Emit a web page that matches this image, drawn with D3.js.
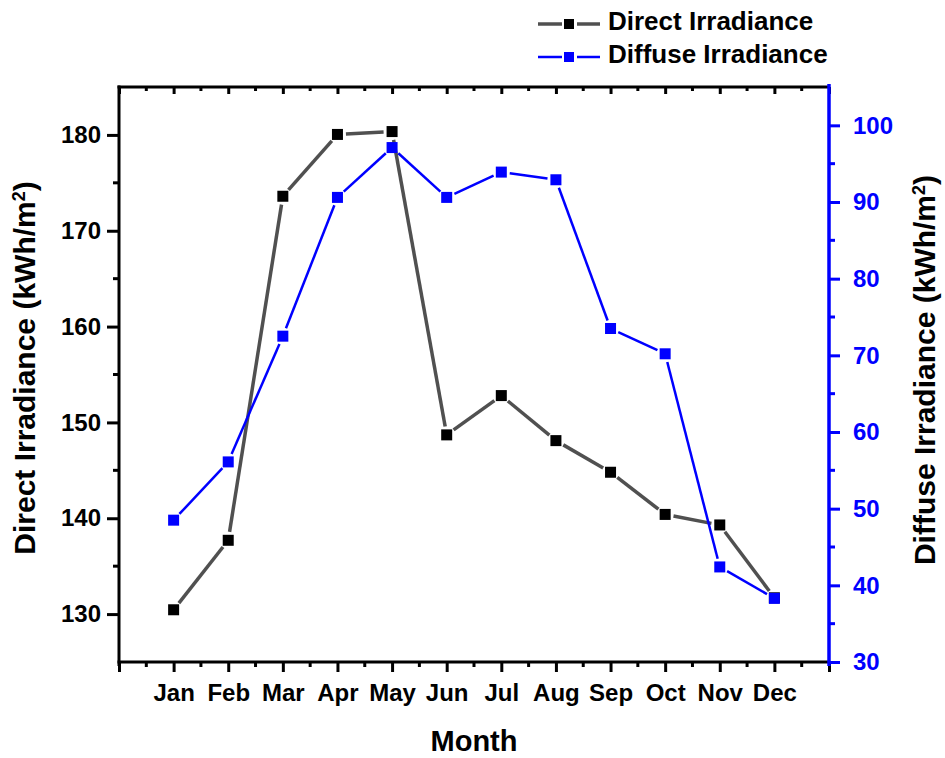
<!DOCTYPE html>
<html>
<head>
<meta charset="utf-8">
<script src="https://cdn.jsdelivr.net/npm/d3@7"></script>
<style>
  body { margin: 0; background: #fff; }
  svg { display: block; font-family: "Liberation Sans", Arial, sans-serif; font-weight: bold; }
</style>
</head>
<body>
<div id="chart"></div>
<script>
// data
const months = ["Jan", "Feb", "Mar", "Apr", "May", "Jun", "Jul", "Aug", "Sep", "Oct", "Nov", "Dec"];
const directVals = [130.45, 137.7, 173.6, 180.05, 180.35, 148.7, 152.8, 148.1, 144.8, 140.4, 139.3, 131.7];
const diffuseVals = [48.5, 56.1, 72.5, 90.6, 97.1, 90.6, 93.9, 92.9, 73.5, 70.2, 42.4, 38.3];
const leftTicks = [130, 140, 150, 160, 170, 180];
const rightTicks = [30, 40, 50, 60, 70, 80, 90, 100];

const W = 945, H = 758;
const plotL = 119, plotR = 829, plotT = 87, plotB = 662;
const grey = "#505050", blue = "#0000ff";
const MS = 11;   // marker size
const GAP = 8.5; // line stops short of markers (Origin style)

let svg = d3.select("#chart").append("svg")
  .attr("width", W)
  .attr("height", H);

let x = d3.scaleLinear().domain([0, 13]).range([plotL, plotR]);
let yL = d3.scaleLinear().domain([125, 185]).range([plotB, plotT]);
let yR = d3.scaleLinear().domain([30, 105]).range([plotB, plotT]);

// ---- axes ----
let majorX = d3.range(0, 14);
let minorX = d3.range(0.5, 13, 1);

// bottom
let bAxis = d3.axisBottom(x).tickValues(majorX).tickSize(10)
  .tickFormat(d => (d >= 1 && d <= 12) ? months[d - 1] : "");
let gB = svg.append("g").attr("transform", `translate(0,${plotB})`).call(bAxis);
gB.append("g").selectAll("line").data(minorX).enter().append("line")
  .attr("x1", d => x(d)).attr("x2", d => x(d)).attr("y1", 0).attr("y2", 5);

// top (inward ticks, no labels)
let tAxis = d3.axisBottom(x).tickValues(majorX).tickSize(7).tickFormat("");
let gT = svg.append("g").attr("transform", `translate(0,${plotT})`).call(tAxis);
gT.append("g").selectAll("line").data(minorX).enter().append("line")
  .attr("x1", d => x(d)).attr("x2", d => x(d)).attr("y1", 0).attr("y2", 4);

// left
let lAxis = d3.axisLeft(yL).tickValues(leftTicks).tickSize(12).tickPadding(6);
let gL = svg.append("g").attr("transform", `translate(${plotL},0)`).call(lAxis);
gL.append("g").selectAll("line").data([135, 145, 155, 165, 175]).enter().append("line")
  .attr("x1", 0).attr("x2", -6).attr("y1", d => yL(d)).attr("y2", d => yL(d));

// right (blue)
let rAxis = d3.axisRight(yR).tickValues(rightTicks).tickSize(11).tickPadding(13);
let gR = svg.append("g").attr("transform", `translate(${plotR},0)`).call(rAxis);
gR.append("g").selectAll("line").data([35, 45, 55, 65, 75, 85, 95]).enter().append("line")
  .attr("x1", 0).attr("x2", 6).attr("y1", d => yR(d)).attr("y2", d => yR(d));

// styling of all axes
[gB, gT, gL, gR].forEach(g => {
  g.select(".domain").remove();
  g.selectAll("line").attr("stroke", "#000").attr("stroke-width", 3);
  g.selectAll("text").attr("fill", "#000").style("font-size", "24px")
    .style("font-family", "'Liberation Sans', Arial, sans-serif").style("font-weight", "bold");
});
gB.selectAll(".tick text").attr("dy", "1.1em");
gR.selectAll("line").attr("stroke", blue);
gR.selectAll("text").attr("fill", blue);

// frame lines
svg.append("line").attr("x1", plotL - 1.5).attr("x2", plotR).attr("y1", plotT).attr("y2", plotT)
  .attr("stroke", "#000").attr("stroke-width", 3);
svg.append("line").attr("x1", plotL - 1.5).attr("x2", plotR).attr("y1", plotB).attr("y2", plotB)
  .attr("stroke", "#000").attr("stroke-width", 3);
svg.append("line").attr("x1", plotL).attr("x2", plotL).attr("y1", plotT - 1.5).attr("y2", plotB + 4)
  .attr("stroke", "#000").attr("stroke-width", 3);
svg.append("line").attr("x1", plotR).attr("x2", plotR).attr("y1", plotT - 3).attr("y2", plotB + 4)
  .attr("stroke", blue).attr("stroke-width", 3.5);

// ---- series ----
function drawSeries(vals, yScale, lineColor, markColor, lw) {
  let pts = vals.map((v, i) => [x(i + 1), yScale(v)]);
  let segs = d3.pairs(pts).map(([a, b]) => {
    let dx = b[0] - a[0], dy = b[1] - a[1];
    let len = Math.sqrt(dx * dx + dy * dy);
    let ux = dx / len, uy = dy / len;
    return [[a[0] + ux * GAP, a[1] + uy * GAP], [b[0] - ux * GAP, b[1] - uy * GAP]];
  });
  let line = d3.line();
  let g = svg.append("g");
  g.selectAll("path").data(segs).enter().append("path")
    .attr("d", line)
    .attr("fill", "none")
    .attr("stroke", lineColor)
    .attr("stroke-width", lw);
  g.selectAll("rect").data(pts).enter().append("rect")
    .attr("x", d => d[0] - MS / 2)
    .attr("y", d => d[1] - MS / 2)
    .attr("width", MS).attr("height", MS)
    .attr("fill", markColor);
}
drawSeries(directVals, yL, grey, "#000", 3.5);
drawSeries(diffuseVals, yR, blue, blue, 2.5);

// ---- axis titles ----
function titleWithSup(sel, main) {
  sel.append("tspan").text(main);
  sel.append("tspan").text("2").attr("baseline-shift", "super").style("font-size", "18px");
  sel.append("tspan").text(")");
}
let tl = svg.append("text")
  .attr("transform", "translate(35,368) rotate(-90)")
  .attr("text-anchor", "middle")
  .style("font-size", "30px").attr("fill", "#000");
titleWithSup(tl, "Direct Irradiance (kWh/m");

let tr = svg.append("text")
  .attr("transform", "translate(935,370) rotate(-90)")
  .attr("text-anchor", "middle")
  .style("font-size", "30px").attr("fill", "#000");
titleWithSup(tr, "Diffuse Irradiance (kWh/m");

svg.append("text")
  .attr("x", (plotL + plotR) / 2).attr("y", 751)
  .attr("text-anchor", "middle")
  .style("font-size", "29px").attr("fill", "#000")
  .text("Month");

// ---- legend ----
let legendItems = [
  {name: "Direct Irradiance", line: grey, mark: "#000", lw: 3.5, y: 24},
  {name: "Diffuse Irradiance", line: blue, mark: blue, lw: 2.5, y: 57}
];
let lg = svg.append("g");
legendItems.forEach(d => {
  let g = lg.append("g");
  g.append("line").attr("x1", 538).attr("x2", 562).attr("y1", d.y).attr("y2", d.y)
    .attr("stroke", d.line).attr("stroke-width", d.lw);
  g.append("line").attr("x1", 577).attr("x2", 600).attr("y1", d.y).attr("y2", d.y)
    .attr("stroke", d.line).attr("stroke-width", d.lw);
  g.append("rect").attr("x", 569 - 5).attr("y", d.y - 5).attr("width", 10).attr("height", 10)
    .attr("fill", d.mark);
  g.append("text").attr("x", 608).attr("y", d.y + 6)
    .style("font-size", "26px").attr("fill", "#000").text(d.name);
});
</script>
</body>
</html>
